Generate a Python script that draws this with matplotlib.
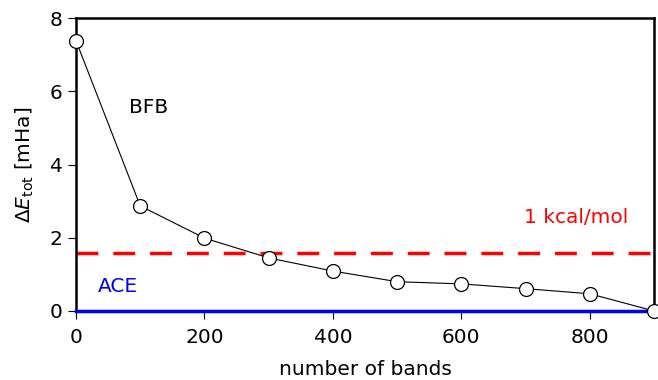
import matplotlib
matplotlib.use('Agg')
import matplotlib.pyplot as plt

# number of bands vs total energy error
bands = [0, 100, 200, 300, 400, 500, 600, 700, 800, 900]
delta_e = [7.38, 2.87, 1.99, 1.45, 1.09, 0.80, 0.74, 0.61, 0.47, 0.0]
kcal_mol = 1.594
ace_level = 0.0
xticks = [0, 200, 400, 600, 800]
yticks = [0, 2, 4, 6, 8]


def visualize():
	fig = plt.figure(figsize=(6.58, 3.8), dpi=100)
	ax = fig.add_axes([0.1155, 0.1816, 0.8785, 0.771])

	ax.axhline(kcal_mol, color='red', lw=2.5, ls=(0, (6.3, 4.3)), zorder=1)
	ax.axhline(ace_level, color='#0000ee', lw=2.5, zorder=2.6, clip_on=False)
	ax.plot(bands, delta_e, color='black', lw=0.8, marker='o', ms=10,
		mfc='white', mec='black', mew=0.9, zorder=3, clip_on=False)

	ax.text(82, 5.55, 'BFB', fontsize=14.5, va='center', ha='left')
	ax.text(697, 2.54, '1 kcal/mol', fontsize=14.5, va='center', ha='left', color='red')
	ax.text(34, 0.68, 'ACE', fontsize=14.5, va='center', ha='left', color='#0000ee')

	ax.set_xlim(0, 900)
	ax.set_ylim(0, 8)
	ax.set_xticks(xticks)
	ax.set_yticks(yticks)
	ax.tick_params(labelsize=14.5, direction='out', length=6, width=0.8)
	ax.tick_params(axis='x', pad=6.5)
	for s in ax.spines.values():
		s.set_linewidth(1.8)
	ax.set_xlabel('number of bands', fontsize=14.5, labelpad=9)
	ax.set_ylabel(r'$\mathit{ΔE}_{\rm tot}$ [mHa]', fontsize=14.5, labelpad=10)

	fig.savefig('out.png', dpi=100)


def main():
	visualize()


if __name__ == '__main__':
	main()
